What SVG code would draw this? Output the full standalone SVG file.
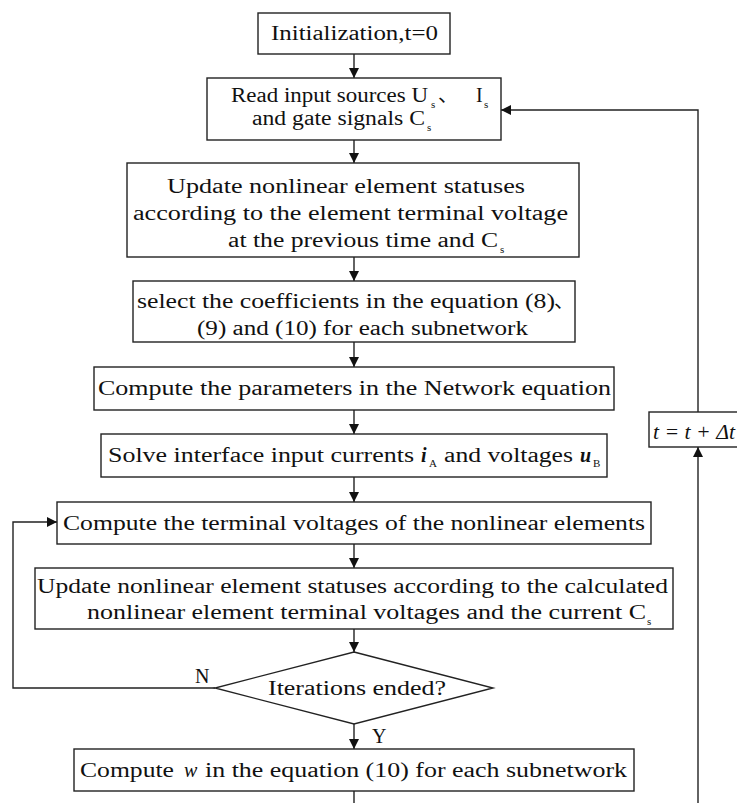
<svg xmlns="http://www.w3.org/2000/svg" width="737" height="803" viewBox="0 0 737 803">
<style>
.box{fill:#fff;stroke:#222;stroke-width:1.4}
.t{font-family:"Liberation Serif","Noto Sans CJK SC",serif;font-size:20px;fill:#111}
.sub{font-family:"Liberation Serif",serif;font-size:11px;fill:#111}
.it{font-style:italic}
.bi{font-style:italic;font-weight:bold}
.c{fill:none;stroke:#222;stroke-width:1.4}
</style>
<defs>
<marker id="ah" markerUnits="userSpaceOnUse" markerWidth="10" markerHeight="10" refX="10" refY="5" orient="auto">
<path d="M0,0 L10,5 L0,10 z" fill="#111"/>
</marker>
</defs>
<rect width="737" height="803" fill="#fff"/>
<g id="connectors">
<path class="c" d="M354,54 V78" marker-end="url(#ah)"/>
<path class="c" d="M354,140 V163" marker-end="url(#ah)"/>
<path class="c" d="M354,257 V281" marker-end="url(#ah)"/>
<path class="c" d="M354,342 V367" marker-end="url(#ah)"/>
<path class="c" d="M354,410 V434" marker-end="url(#ah)"/>
<path class="c" d="M354,477 V502" marker-end="url(#ah)"/>
<path class="c" d="M354,544 V568" marker-end="url(#ah)"/>
<path class="c" d="M354,629 V652" marker-end="url(#ah)"/>
<path class="c" d="M354,724 V749" marker-end="url(#ah)"/>
<path class="c" d="M354,791 V803"/>
<path class="c" d="M215,688 H13 V522 H57" marker-end="url(#ah)"/>
<path class="c" d="M698,803 V447" marker-end="url(#ah)"/>
<path class="c" d="M698,412 V110 H501" marker-end="url(#ah)"/>
<text class="t" x="195" y="683">N</text>
<text class="t" x="372" y="743">Y</text>
</g>
<g id="n1">
<rect class="box" x="258" y="13" width="192" height="41"/>
<text class="t" x="271" y="40" textLength="167" lengthAdjust="spacingAndGlyphs">Initialization,t=0</text>
</g>
<g id="n2">
<rect class="box" x="207" y="78" width="294" height="62"/>
<text class="t" x="231" y="102" textLength="197" lengthAdjust="spacingAndGlyphs">Read input sources U</text>
<text class="sub" x="431" y="108">s</text>
<text class="t" x="438" y="102">、</text>
<text class="t" x="476" y="102">I</text>
<text class="sub" x="484" y="108">s</text>
<text class="t" x="252" y="125" textLength="173" lengthAdjust="spacingAndGlyphs">and gate signals C</text>
<text class="sub" x="427" y="131">s</text>
</g>
<g id="n3">
<rect class="box" x="127" y="163" width="452" height="94"/>
<text class="t" x="167" y="193" textLength="358" lengthAdjust="spacingAndGlyphs">Update nonlinear element statuses</text>
<text class="t" x="133" y="220" textLength="435" lengthAdjust="spacingAndGlyphs">according to the element terminal voltage</text>
<text class="t" x="228" y="247" textLength="270" lengthAdjust="spacingAndGlyphs">at the previous time and C</text>
<text class="sub" x="500" y="253">s</text>
</g>
<g id="n4">
<rect class="box" x="133" y="281" width="442" height="61"/>
<text class="t" x="137" y="308" textLength="418" lengthAdjust="spacingAndGlyphs">select the coefficients in the equation (8)</text>
<text class="t" x="554" y="308">、</text>
<text class="t" x="197" y="335" textLength="331" lengthAdjust="spacingAndGlyphs">(9) and (10) for each subnetwork</text>
</g>
<g id="n5">
<rect class="box" x="94" y="367" width="520" height="43"/>
<text class="t" x="98" y="395" textLength="513" lengthAdjust="spacingAndGlyphs">Compute the parameters in the Network equation</text>
</g>
<g id="n6">
<rect class="box" x="101" y="434" width="506" height="43"/>
<text class="t" x="108" y="462" textLength="306" lengthAdjust="spacingAndGlyphs">Solve interface input currents</text>
<text class="t bi" x="421" y="462">i</text>
<text class="sub" x="429" y="467">A</text>
<text class="t" x="444" y="462" textLength="129" lengthAdjust="spacingAndGlyphs">and voltages</text>
<text class="t bi" x="580" y="462">u</text>
<text class="sub" x="593" y="467">B</text>
</g>
<g id="n7">
<rect class="box" x="57" y="502" width="594" height="42"/>
<text class="t" x="63" y="530" textLength="582" lengthAdjust="spacingAndGlyphs">Compute the terminal voltages of the nonlinear elements</text>
</g>
<g id="n8">
<rect class="box" x="35" y="568" width="638" height="61"/>
<text class="t" x="37" y="593" textLength="631" lengthAdjust="spacingAndGlyphs">Update nonlinear element statuses according to the calculated</text>
<text class="t" x="87" y="619" textLength="559" lengthAdjust="spacingAndGlyphs">nonlinear element terminal voltages and the current C</text>
<text class="sub" x="647" y="625">s</text>
</g>
<g id="n9">
<polygon class="box" points="354,652 493,688 354,724 215,688"/>
<text class="t" x="268" y="695" textLength="178" lengthAdjust="spacingAndGlyphs">Iterations ended?</text>
</g>
<g id="n10">
<rect class="box" x="74" y="749" width="560" height="42"/>
<text class="t" x="80" y="777" textLength="94" lengthAdjust="spacingAndGlyphs">Compute</text>
<text class="t it" x="184" y="777">w</text>
<text class="t" x="205" y="777" textLength="422" lengthAdjust="spacingAndGlyphs">in the equation (10) for each subnetwork</text>
</g>
<g id="n11">
<rect class="box" x="649" y="412" width="97" height="35"/>
<text class="t it" x="653" y="439" textLength="82" lengthAdjust="spacingAndGlyphs">t = t + Δt</text>
</g>
</svg>
